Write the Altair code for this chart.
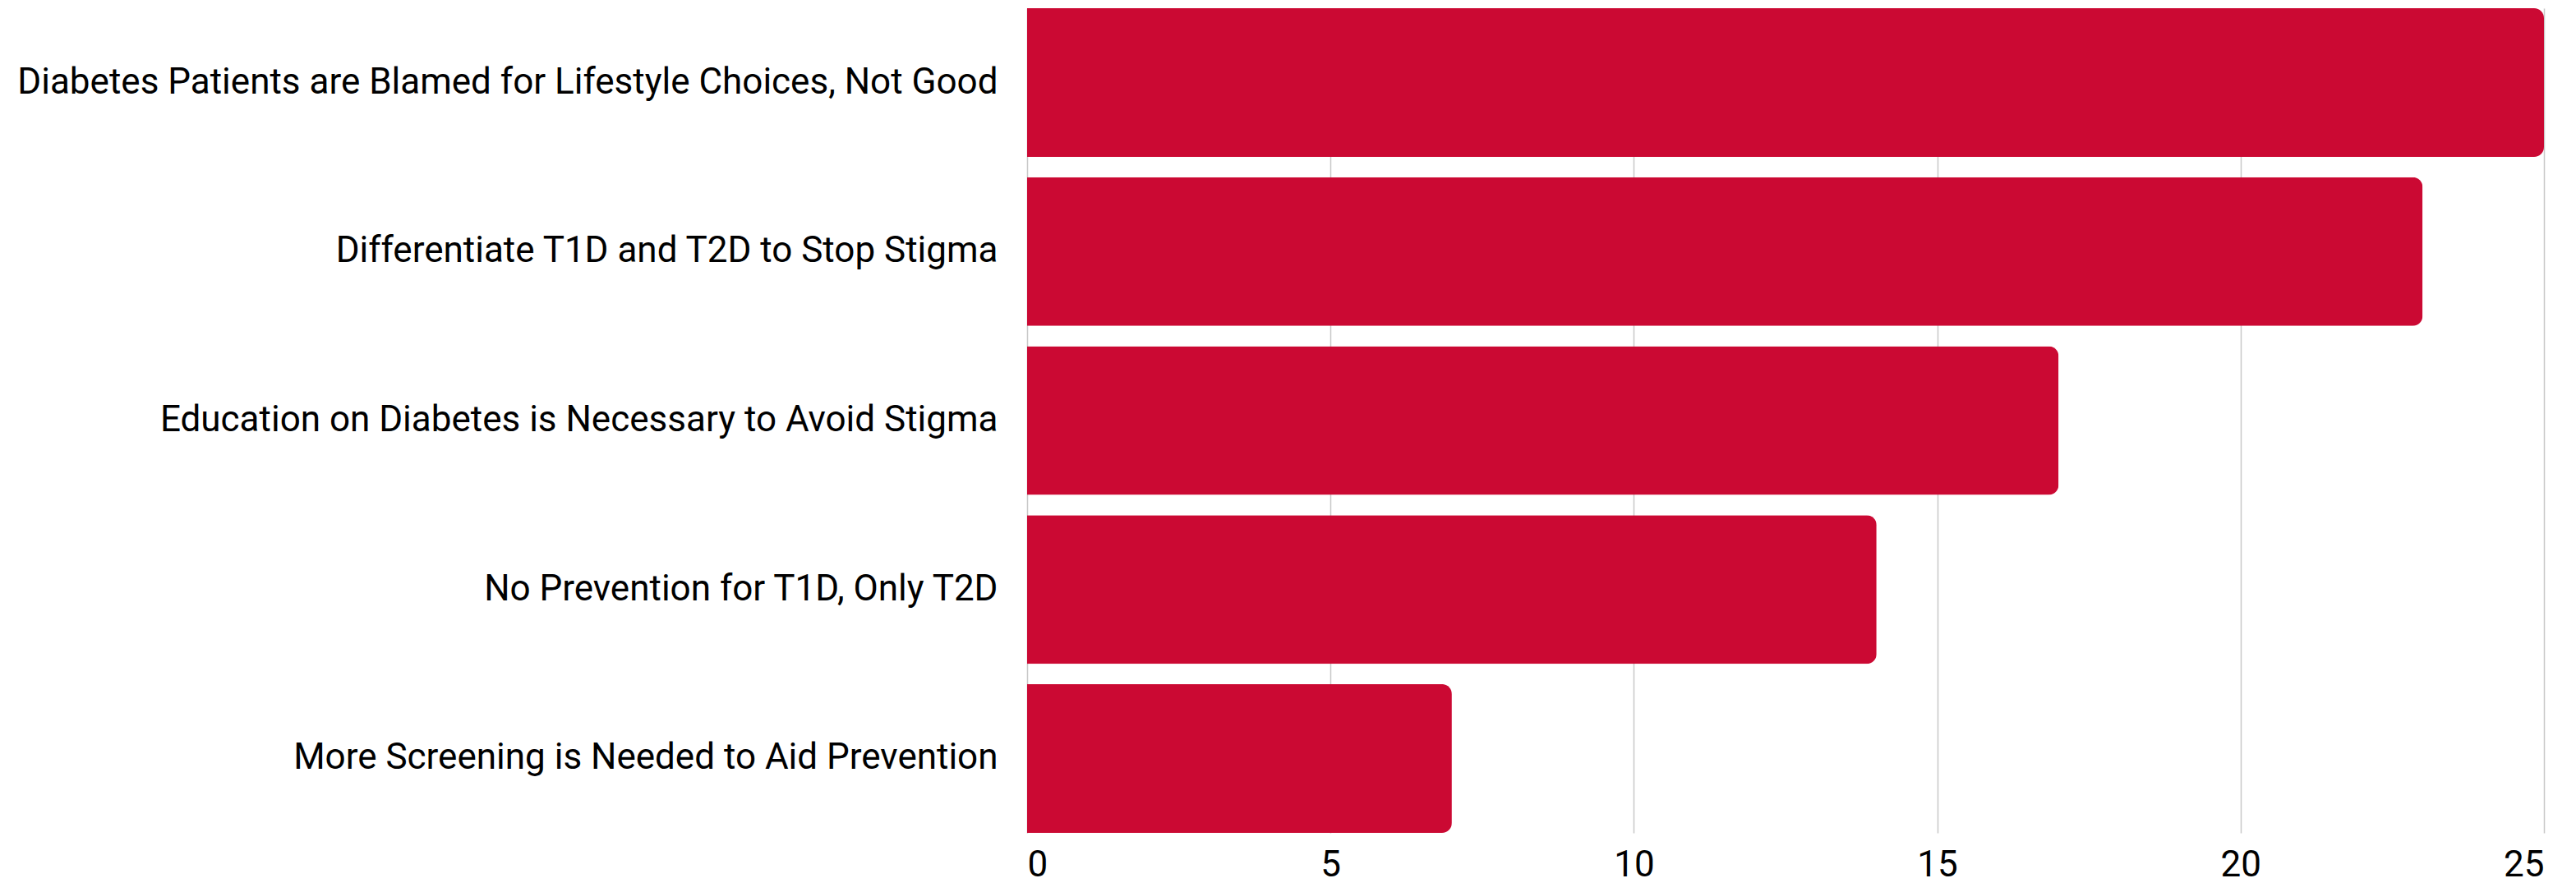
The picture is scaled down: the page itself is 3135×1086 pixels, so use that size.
import altair as alt
import pandas as pd

categories = [
    "Diabetes Patients are Blamed for Lifestyle Choices, Not Good",
    "Differentiate T1D and T2D to Stop Stigma",
    "Education on Diabetes is Necessary to Avoid Stigma",
    "No Prevention for T1D, Only T2D",
    "More Screening is Needed to Aid Prevention",
]
counts = [25, 23, 17, 14, 7]
tick_values = [0, 5, 10, 15, 20, 25]

df = pd.DataFrame({"theme": categories, "count": counts})

chart = (
    alt.Chart(df)
    .mark_bar(color="#CB0933", cornerRadiusEnd=12)
    .encode(
        x=alt.X(
            "count:Q",
            scale=alt.Scale(domain=[0, 25], nice=False),
            axis=alt.Axis(
                values=tick_values,
                title=None,
                grid=True,
                gridColor="#c8c8c8",
                gridWidth=1.5,
                domain=False,
                ticks=False,
                labelFontSize=44,
                labelFont="Roboto",
                labelColor="#000000",
                labelPadding=17,
            ),
        ),
        y=alt.Y(
            "theme:N",
            sort=categories,
            scale=alt.Scale(paddingInner=0.12, paddingOuter=0),
            axis=alt.Axis(
                title=None,
                domain=False,
                ticks=False,
                grid=False,
                labelFontSize=44,
                labelFont="Roboto",
                labelColor="#000000",
                labelPadding=36,
                labelLimit=1300,
            ),
        ),
    )
    .properties(
        width=1846,
        height=1004,
        autosize=alt.AutoSizeParams(type="none"),
        padding={"left": 1242, "top": 2, "right": 30, "bottom": 63},
    )
    .configure_view(stroke=None)
)

chart.save("out.html", embed_options={"renderer": "svg", "actions": False})
